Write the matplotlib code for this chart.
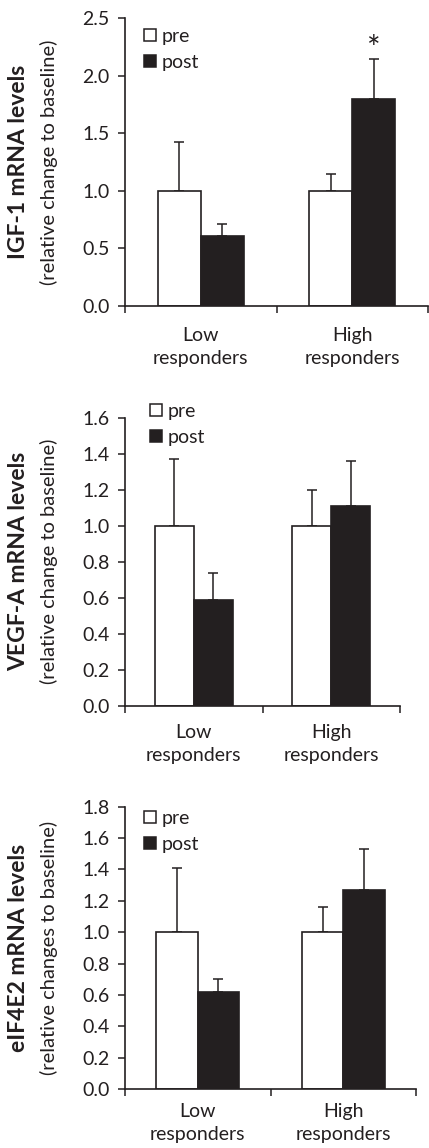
import matplotlib.pyplot as plt
from matplotlib.patches import Patch

# figure size in pixels (dpi 100)
W, H = 429, 1148
DARK = '#231f20'

groups = ['Low\nresponders', 'High\nresponders']

igf1_pre = [1.00, 1.00]
igf1_pre_err = [0.42, 0.15]
igf1_post = [0.61, 1.80]
igf1_post_err = [0.10, 0.34]

vegfa_pre = [1.00, 1.00]
vegfa_pre_err = [0.37, 0.20]
vegfa_post = [0.59, 1.11]
vegfa_post_err = [0.15, 0.25]

eif4e2_pre = [1.00, 1.00]
eif4e2_pre_err = [0.41, 0.16]
eif4e2_post = [0.62, 1.27]
eif4e2_post_err = [0.08, 0.26]

panels = [
    # title, sub, pre, pre_err, post, post_err, ymax, step,
    # box(l, t, r, b), legend(x, y), star, category label pad
    ('IGF-1 mRNA levels', '(relative change to baseline)',
     igf1_pre, igf1_pre_err, igf1_post, igf1_post_err, 2.5, 0.5,
     (125, 18, 428, 306), (144, 28), [False, True], 15),
    ('VEGF-A mRNA levels', '(relative change to baseline)',
     vegfa_pre, vegfa_pre_err, vegfa_post, vegfa_post_err, 1.6, 0.2,
     (125, 417.7, 400, 705.7), (150, 403), [False, False], 13),
    ('eIF4E2 mRNA levels', '(relative changes to baseline)',
     eif4e2_pre, eif4e2_pre_err, eif4e2_post, eif4e2_post_err, 1.8, 0.2,
     (125, 806.7, 416, 1089), (144, 810), [False, False], 10),
]

plt.rcParams['font.family'] = ['Lato', 'DejaVu Sans']
FS = 14

fig = plt.figure(figsize=(W / 100, H / 100), dpi=100)

bw = 0.285
cx = [0.5, 1.5]

for (title, sub, pre, pre_err, post, post_err, ymax, step,
     box, leg, star, cpad) in panels:
    l, t, r, b = box
    ax = fig.add_axes([l / W, 1 - b / H, (r - l) / W, (b - t) / H])

    x_pre = [c - bw / 2 for c in cx]
    x_post = [c + bw / 2 for c in cx]
    ax.bar(x_pre, pre, width=bw, color='white', edgecolor=DARK, linewidth=1.2, zorder=2)
    ax.bar(x_post, post, width=bw, color=DARK, edgecolor=DARK, linewidth=1.2, zorder=2)
    ax.errorbar(x_pre, pre, yerr=[[0, 0], pre_err], fmt='none', ecolor=DARK,
                elinewidth=1.1, capsize=3.8, capthick=1.1, zorder=1)
    ax.errorbar(x_post, post, yerr=[[0, 0], post_err], fmt='none', ecolor=DARK,
                elinewidth=1.1, capsize=3.8, capthick=1.1, zorder=1)

    # significance marker
    for i, s in enumerate(star):
        if s:
            ax.annotate('*', xy=(x_post[i], post[i] + post_err[i]), xytext=(0, -4),
                        textcoords='offset points', ha='center', va='bottom',
                        fontsize=23, color=DARK)

    ax.set_xlim(0, 2)
    ax.set_ylim(0, ymax)
    n = int(round(ymax / step))
    yt = [k * step for k in range(n + 1)]
    ax.set_yticks(yt)
    ax.set_yticklabels(['%.1f' % v for v in yt])
    ax.set_xticks([0, 1, 2])
    ax.set_xticklabels(['', '', ''])
    ax.set_xticks(cx, minor=True)
    ax.set_xticklabels(groups, minor=True, linespacing=1.45)
    ax.tick_params(axis='x', which='major', direction='out', length=5, width=1.1, color=DARK)
    ax.tick_params(axis='x', which='minor', length=0, pad=cpad, labelsize=FS, labelcolor=DARK)
    ax.tick_params(axis='y', direction='out', length=5, width=1.1, color=DARK,
                   labelsize=FS, labelcolor=DARK, pad=6)

    for side in ['top', 'right']:
        ax.spines[side].set_visible(False)
    for side in ['left', 'bottom']:
        ax.spines[side].set_linewidth(1.2)
        ax.spines[side].set_color(DARK)

    yc = 1 - (t + b) / 2 / H
    fig.text(19 / W, yc, title, rotation=90, ha='center', va='center',
             fontsize=16.5, fontweight='bold', color=DARK)
    fig.text(49 / W, yc, sub, rotation=90, ha='center', va='center',
             fontsize=14.5, color=DARK)

    handles = [Patch(facecolor='white', edgecolor=DARK, linewidth=1.1),
               Patch(facecolor=DARK, edgecolor=DARK, linewidth=1.1)]
    ax.legend(handles, ['pre', 'post'], loc='upper left',
              bbox_to_anchor=(leg[0] / W, 1 - leg[1] / H), bbox_transform=fig.transFigure,
              frameon=False, borderpad=0, borderaxespad=0, handlelength=0.6,
              handleheight=0.6, handletextpad=0.3, labelspacing=0.45, fontsize=FS,
              labelcolor=DARK)

fig.savefig('out.png', dpi=100)
